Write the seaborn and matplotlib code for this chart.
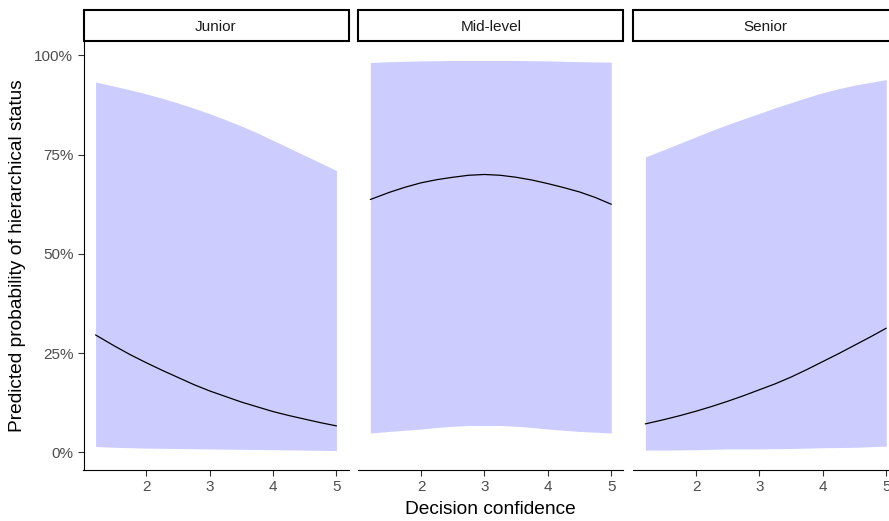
import matplotlib
matplotlib.use("Agg")
import matplotlib.pyplot as plt
import pandas as pd
import seaborn as sns
from matplotlib.patches import Rectangle
from matplotlib.ticker import PercentFormatter

# Predicted probabilities (%) with confidence band, by career level
confidence = [1.2, 1.5, 1.75, 2.0, 2.25, 2.5, 2.75, 3.0,
              3.25, 3.5, 3.75, 4.0, 4.25, 4.5, 4.75, 5.0]
levels = ["Junior", "Mid-level", "Senior"]

junior_fit = [29.6, 26.8, 24.6, 22.6, 20.7, 18.9, 17.1, 15.5,
              14.1, 12.7, 11.5, 10.3, 9.3, 8.4, 7.5, 6.7]
junior_lo = [1.5, 1.3, 1.2, 1.1, 1.05, 1.0, 0.95, 0.9,
             0.85, 0.8, 0.75, 0.7, 0.65, 0.6, 0.55, 0.5]
junior_hi = [93.3, 92.2, 91.3, 90.3, 89.2, 88.0, 86.7, 85.3,
             83.8, 82.2, 80.5, 78.6, 76.7, 74.8, 72.9, 71.0]

mid_fit = [63.7, 65.5, 66.8, 67.9, 68.7, 69.3, 69.8, 70.0,
           69.8, 69.3, 68.6, 67.7, 66.7, 65.6, 64.2, 62.5]
mid_lo = [4.9, 5.3, 5.6, 5.9, 6.3, 6.6, 6.8, 6.8,
          6.8, 6.6, 6.3, 5.9, 5.6, 5.3, 5.1, 4.9]
mid_hi = [98.2, 98.4, 98.5, 98.6, 98.65, 98.7, 98.7, 98.7,
          98.7, 98.7, 98.65, 98.6, 98.5, 98.4, 98.35, 98.3]

senior_fit = [7.2, 8.3, 9.3, 10.4, 11.6, 12.9, 14.3, 15.8,
              17.3, 19.0, 20.9, 22.9, 24.9, 27.0, 29.1, 31.3]
senior_lo = [0.6, 0.6, 0.65, 0.7, 0.8, 0.9, 0.9, 0.9,
             0.95, 1.0, 1.1, 1.2, 1.25, 1.3, 1.45, 1.6]
senior_hi = [74.4, 76.3, 77.9, 79.5, 81.1, 82.6, 84.0, 85.4,
             86.8, 88.1, 89.4, 90.6, 91.6, 92.5, 93.2, 93.9]

series = {
    "Junior": (junior_fit, junior_lo, junior_hi),
    "Mid-level": (mid_fit, mid_lo, mid_hi),
    "Senior": (senior_fit, senior_lo, senior_hi),
}

rows = []
for lvl in levels:
    fit, lo, hi = series[lvl]
    for x, f, l, h in zip(confidence, fit, lo, hi):
        rows.append({"level": lvl, "confidence": x,
                     "fit": f / 100, "lower": l / 100, "upper": h / 100})
df = pd.DataFrame(rows)

sns.set_theme(style="ticks")
plt.rcParams["font.family"] = ["Liberation Sans", "DejaVu Sans"]

W, H = 889, 521
g = sns.FacetGrid(df, col="level", col_order=levels, sharex=True, sharey=True,
                  despine=False, height=4, aspect=0.7)
fig = g.figure
fig.set_size_inches(W / 100, H / 100)
fig.set_dpi(100)


def band(data, **kws):
    ax = plt.gca()
    ax.fill_between(data["confidence"], data["lower"], data["upper"],
                    color="blue", alpha=0.2, linewidth=0)
    sns.lineplot(data=data, x="confidence", y="fit", color="black",
                 linewidth=0.9, ax=ax, sort=True)


g.map_dataframe(band)

# Axis limits with a 5% pad around the data range
xmin, xmax = min(confidence), max(confidence)
xpad = (xmax - xmin) * 0.05
ymin, ymax = df["lower"].min(), df["upper"].max()
ypad = (ymax - ymin) * 0.05

panel_left_px = [83.5, 358.3, 633.3]
panel_w_px = 265.0
panel_top_px, panel_bot_px = 41.0, 470.0
strip_h_px = 31.4
panel_h_px = panel_bot_px - panel_top_px

for i, (ax, lvl) in enumerate(zip(g.axes.flat, levels)):
    ax.set_position([panel_left_px[i] / W, 1 - panel_bot_px / H,
                     panel_w_px / W, panel_h_px / H])
    ax.set_title("")
    ax.set_xlabel("")
    ax.set_ylabel("")
    ax.set_xlim(xmin - xpad, xmax + xpad)
    ax.set_ylim(ymin - ypad, ymax + ypad)
    ax.set_xticks([2, 3, 4, 5])
    ax.set_yticks([0, 0.25, 0.5, 0.75, 1.0])
    ax.yaxis.set_major_formatter(PercentFormatter(1.0, decimals=0))
    ax.tick_params(axis="both", colors="#333333", labelcolor="#4D4D4D",
                   labelsize=11, length=4.3, width=0.8, pad=3)
    for side in ("top", "right"):
        ax.spines[side].set_visible(False)
    ax.spines["bottom"].set_color("black")
    ax.spines["bottom"].set_linewidth(0.8)
    if i == 0:
        ax.spines["left"].set_color("black")
        ax.spines["left"].set_linewidth(0.8)
    else:
        ax.spines["left"].set_visible(False)
        ax.tick_params(axis="y", left=False, labelleft=False)

    # facet strip
    sh = strip_h_px / panel_h_px
    ax.add_patch(Rectangle((0, 1.0), 1, sh, transform=ax.transAxes,
                           clip_on=False, facecolor="white",
                           edgecolor="black", linewidth=1.5, zorder=5))
    ax.text(0.5, 1.0 + sh / 2, lvl, transform=ax.transAxes, ha="center",
            va="center_baseline", fontsize=11, color="#1A1A1A", zorder=6)

fig.text(490.8 / W, 1 - 509 / H, "Decision confidence", ha="center",
         va="center", fontsize=13.75, color="black")
fig.text(18 / W, 1 - 255.5 / H, "Predicted probability of hierarchical status",
         ha="center", va="center", rotation=90, fontsize=13.75, color="black")

fig.savefig("out.png", dpi=100)
